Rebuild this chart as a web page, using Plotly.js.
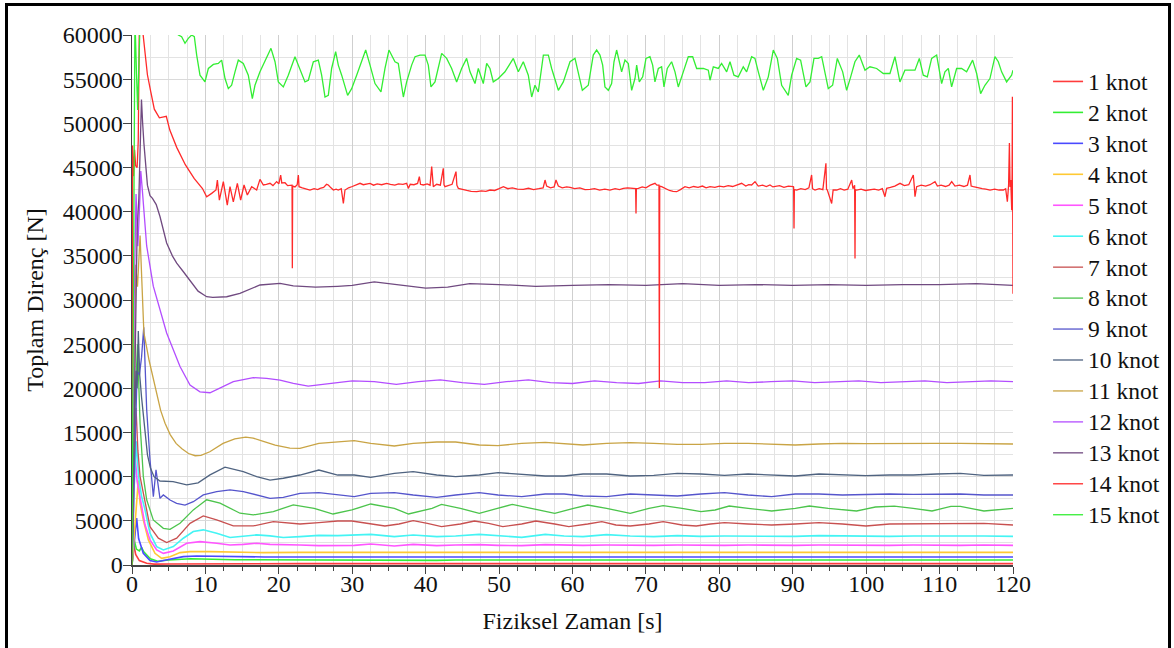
<!DOCTYPE html>
<html><head><meta charset="utf-8">
<script src="https://cdn.plot.ly/plotly-3.0.1.min.js"></script>
<style>
html,body{margin:0;padding:0;background:#fff;}
#wrap{position:relative;width:1174px;height:648px;overflow:hidden;}
#chart{position:absolute;left:0;top:0;width:1174px;height:648px;}
#frame{position:absolute;left:5px;top:3px;width:1166px;height:670px;border:3px solid #000;box-sizing:border-box;pointer-events:none;}
</style></head><body>
<div id="wrap"><div id="chart"></div><div id="frame"></div></div>
<script>
// ---------- series names & colours ----------
const names = ['1 knot','2 knot','3 knot','4 knot','5 knot','6 knot','7 knot','8 knot','9 knot','10 knot','11 knot','12 knot','13 knot','14 knot','15 knot'];
const colors = ['#ff3b3b','#33ee33','#4a4aff','#ffc933','#ff55ff','#44f4f4','#c85050','#4cc44c','#5555cc','#4f6380','#c9a445','#b34dff','#704a80','#ff2a2a','#33ee33'];

// ---------- shared late time grid (s) ----------
const tLate = [22.88,25.45,28.02,30.27,32.52,35.73,38.30,41.51,44.08,47.29,49.86,53.08,56.29,58.86,61.43,64.64,67.86,71.07,74.28,77.49,80.70,83.92,87.13,90.34,93.56,96.77,99.97,103.19,106.40,109.62,112.83,116.04,120];

// ---------- 1 knot ----------
const t1e = [0,0.2,0.5,1.0,2.0,3.0,5.0,10];
const v1e = [0,2500,1200,500,200,100,120,150];
const v1l = [150,150,150,113,150,150,150,150,113,150,150,150,150,150,150,113,150,150,150,150,150,150,150,113,150,150,150,150,150,150,150,113,150];
// ---------- 2 knot ----------
const t2e = [0,0.3,0.6,1.0,1.3,1.6,2.5,3.5,5,8,14];
const v2e = [0,2800,1800,1600,2000,1500,700,420,560,700,600];
const v2l = [566,566,528,566,566,566,566,528,566,566,566,566,566,528,566,566,566,566,566,566,528,566,566,566,566,566,566,566,528,566,566,566,566];
// ---------- 3 knot ----------
const t3e = [0,0.3,0.63,0.9,1.54,2.45,3.36,4.27,5.63,6.99,8.8,13.35,18.0];
const v3e = [0,2500,5300,3000,1330,500,340,500,760,950,1020,950,910];
const v3l = [906,906,868,906,906,906,944,906,906,906,868,906,906,906,906,906,906,944,906,906,906,906,906,868,906,906,906,906,906,906,944,906,906];
// ---------- 4 knot ----------
const t4e = [0,0.5,0.86,1.1,1.54,2.23,3.13,4.04,5.18,6.54,7.9,10.62,13.35,17.89];
const v4e = [0,5000,9600,7000,5100,2840,1320,750,940,1400,1510,1510,1440,1400];
const v4l = [1434,1434,1472,1434,1434,1396,1434,1434,1472,1434,1434,1434,1396,1434,1434,1434,1472,1434,1434,1434,1434,1396,1434,1434,1434,1434,1434,1472,1434,1434,1434,1434,1434];
// ---------- 5 knot ----------
const t5e = [0,0.2,0.41,0.7,1.09,1.77,2.45,3.36,4.27,5.63,7.45,9.26,11.53,13.35,15.16,16.98,18.80,20.61];
const v5e = [0,8000,12500,9500,7570,4550,2840,1700,1320,1580,2460,2650,2460,2270,2340,2460,2340,2270];
const v5l = [2264,2188,2188,2226,2377,2151,2340,2188,2264,2302,2226,2188,2302,2226,2226,2264,2226,2226,2264,2226,2226,2264,2226,2226,2264,2226,2226,2226,2264,2226,2226,2264,2226];
// ---------- 6 knot ----------
const t6e = [0,0.3,0.6,0.9,1.3,1.77,2.45,3.36,4.27,5.63,6.99,8.35,9.71,11.53,13.35,15.16,16.98,18.80,20.61];
const v6e = [0,9000,14000,10000,7800,6250,3600,2080,1710,2080,3030,3790,3980,3600,3110,3220,3410,3300,3110];
const v6l = [3207,3358,3320,3396,3471,3207,3396,3207,3283,3471,3283,3132,3471,3283,3207,3434,3283,3207,3320,3245,3283,3245,3283,3245,3320,3283,3283,3245,3283,3245,3283,3283,3245];
// ---------- 7 knot ----------
const t7 = [0,0.3,0.55,0.8,1.1,1.54,2.45,3.59,4.72,6.09,7.9,9.71,11.53,13.8,16.52,19.25,21.97,
  22.88,25.45,28.02,29.95,31.87,34.45,36.37,38.30,40.23,42.16,44.73,46.65,48.58,50.51,53.08,55.00,57.57,59.50,62.07,64.00,
  65.92,67.86,70.42,72.35,74.92,76.85,78.78,80.70,83.92,87.13,90.34,93.56,96.77,99.97,103.19,106.40,109.62,112.83,116.04,120];
const v7 = [0,12000,17800,13000,10000,8130,4340,3040,2540,3040,4720,5550,5100,4420,4420,4910,4720,
  4641,4792,4981,4981,4717,4415,4641,5019,4717,4339,4641,4981,4717,4339,4641,4981,4641,4339,4641,4905,
  4528,4415,4641,4905,4528,4415,4641,4792,4641,4528,4641,4792,4641,4415,4641,4641,4717,4641,4717,4528];
// ---------- 8 knot ----------
const t8 = [0,0.4,0.75,1.1,1.54,2.0,2.9,4.27,5.18,6.54,8.35,10.17,11.99,14.71,16.52,19.25,21.97,
  22.88,24.81,27.38,29.95,32.52,35.73,37.66,40.87,42.16,44.73,47.30,49.87,51.80,54.36,57.58,60.15,62.07,64.64,67.86,70.42,
  72.35,74.92,77.49,79.42,81.35,83.92,87.13,90.34,92.27,94.84,98.69,101.26,103.83,106.40,108.97,111.54,112.83,116.04,120];
const v8 = [0,18000,25000,16000,10030,7380,5100,4150,4040,4720,6240,7380,7000,5860,5670,6050,6810,
  6676,6415,5774,6227,6906,6415,5774,6415,6868,6415,5849,6415,6868,6415,5849,6415,6793,6415,5849,6415,
  6717,6415,6038,6227,6676,6415,6113,6415,6676,6415,6113,6566,6676,6415,6113,6642,6642,6113,6415];
// ---------- 9 knot ----------
const t9e = [0,0.4,0.7,1.0,1.3,1.6,1.8,2.0,2.45,2.91,3.27,3.59,3.81,4.27,5.18,6.08,7.22,8.35,9.71,11.53,13.35,15.16,16.98,18.80,20.61];
const v9e = [0,14000,22000,21500,23500,26900,21000,17600,11910,7740,10770,8880,7550,7930,7360,6980,6790,7170,7930,8310,8500,8310,7930,7550,7660];
const v9l = [8113,8189,7925,7736,8113,8189,7925,7660,7925,8189,7925,7736,8038,8038,7811,7736,8038,7925,7811,8038,8189,7925,7736,8038,8038,7925,8000,8038,8000,8038,8038,7925,7925];
// ---------- 10 knot ----------
const t10e = [0,0.3,0.55,0.7,0.86,1.05,1.3,1.7,2.1,2.5,3.0,3.81,5.6,7.45,9.0,10.62,12.67,15.16,16.98,18.80,20.61];
const v10e = [0,15000,22000,20000,26500,21500,19000,15500,12500,11000,10000,9510,9450,9070,9300,10200,11070,10580,10000,9620,9820];
const v10l = [10188,10754,10188,10188,9924,10377,10565,10188,10000,10188,10452,10301,10075,10075,10301,10301,10075,10150,10377,10301,10150,10301,10188,10075,10301,10188,10113,10188,10188,10301,10377,10150,10188];
// ---------- 11 knot ----------
const t11e = [0,0.3,0.5,0.75,1.1,1.3,1.62,2.33,3.27,3.9,4.5,5.2,6.0,6.8,7.7,8.6,9.4,10.6,12.4,14.0,15.5,16.5,18.0,19.5,21.5];
const v11e = [0,20000,34000,31500,37300,33000,26300,23150,19640,17500,16050,14760,13770,13170,12620,12370,12420,12820,13770,14270,14470,14370,13970,13570,13220];
const v11l = [13207,13773,13962,14075,13773,13471,13773,13924,13924,13584,13509,13773,13886,13773,13584,13773,13848,13773,13660,13660,13773,13773,13660,13584,13698,13773,13735,13773,13735,13773,13773,13735,13698];
// ---------- 12 knot ----------
const t12 = [0,0.3,0.55,0.8,1.05,1.2,1.4,1.6,2.0,2.9,3.81,4.72,5.63,6.54,7.9,9.26,10.62,11.99,13.8,16.52,18.34,20.16,21.97,24,27,30,33,36,39,42,45,48,51,54,57,60,63,66,69,72,75,78,81,84,87,90,93,96,99,102,105,108,111,114,117,120];
const v12 = [0,30000,42000,36100,41000,44600,42500,40000,36120,31560,28900,26260,24370,22470,20370,19610,19500,20000,20750,21210,21130,20940,20560,20250,20550,20850,20750,20450,20750,20950,20650,20450,20750,20950,20650,20550,20850,20650,20550,20850,20650,20650,20850,20650,20750,20850,20650,20750,20850,20650,20750,20850,20650,20750,20850,20750];
// ---------- 13 knot ----------
const t13 = [0,0.4,0.7,0.93,1.1,1.29,1.45,1.62,2.1,2.45,2.79,3.3,3.81,4.72,5.5,6.09,7.0,7.9,9.0,10.17,11.0,12.9,14.7,17.43,20.16,21.97,25,28,30,33,36,40,43,46,50,55,60,65,70,75,80,85,90,95,100,105,110,115,120];
const v13 = [0,20000,38000,41500,46000,52700,50000,47760,43000,41800,41500,40800,39450,36450,35000,34170,33200,32270,31000,30370,30300,30370,30750,31700,31890,31590,31450,31550,31650,32050,31750,31350,31450,31850,31750,31550,31650,31750,31650,31850,31650,31750,31650,31750,31650,31750,31750,31850,31650];
// ---------- 14 knot ----------
const t14 = [0,0.08,0.2,0.35,0.5,0.7,0.85,1.0,1.39,1.62,2.10,2.56,3.04,3.73,4.27,4.67,5.15,6.09,7.26,8.46,
  9.60,10.17,10.85,11.44,11.63,11.90,12.44,12.98,13.35,13.80,14.35,14.80,15.26,15.71,16.30,16.98,17.43,17.89,
  18.3,18.8,19.2,19.7,20.0,20.25,20.4,20.84,21.2,21.52,21.80,21.84,21.88,22.2,22.5,22.66,22.75,23.2,23.7,24.24,24.8,25.3,
  25.61,26.1,26.5,26.74,27.1,27.43,27.8,28.10,28.5,28.79,29.01,29.5,30.0,30.5,31.06,31.5,32.0,32.42,32.9,33.4,
  34.0,34.69,35.2,35.8,36.3,36.9,37.41,37.64,37.9,38.4,38.9,39.14,39.3,39.68,40.2,40.6,40.82,40.95,41.04,41.5,
  42.0,42.40,42.5,42.63,43.1,43.6,44.13,44.25,44.45,45.0,45.6,46.2,46.95,47.6,48.2,48.77,49.4,50.0,50.59,51.2,
  51.8,52.5,53.30,54.0,54.7,55.4,56.0,56.26,56.48,57.0,57.5,57.75,58.07,58.6,59.2,59.66,60.3,61.0,61.7,62.38,
  63.0,63.7,64.4,65.11,65.8,66.4,66.93,67.5,68.1,68.60,68.65,68.70,68.97,69.5,70.0,70.6,71.24,71.5,71.78,71.83,
  71.88,72.14,72.6,73.2,73.7,74.19,74.7,75.32,75.9,76.5,77.1,77.7,78.2,78.73,79.4,80.0,80.6,81.2,81.8,82.4,
  83.04,83.6,84.0,84.40,84.86,85.3,85.9,86.4,86.90,87.3,87.58,88.2,88.8,89.4,90.08,90.12,90.17,90.22,90.53,91.1,
  91.7,92.2,92.57,92.7,93.03,93.6,94.1,94.52,94.6,94.71,95.30,95.5,95.98,96.5,97.0,97.5,98.03,98.2,98.43,98.48,
  98.53,98.71,99.3,99.9,100.52,101.1,101.7,102.2,102.56,102.79,103.3,103.9,104.61,105.2,105.8,106.42,106.55,106.65,106.88,107.5,
  108.1,108.7,109.38,109.7,110.2,110.8,111.3,111.65,112.1,112.7,113.3,113.8,114.14,114.3,114.60,115.2,115.8,116.3,116.87,117.5,
  118.1,118.69,119.0,119.23,119.4,119.51,119.6,119.69,119.76,119.83,119.88,119.92,119.96,120];
const v14 = [0,47500,44000,47000,45200,45000,48000,61000,61000,59000,55500,53550,51600,50620,50750,50800,49240,47280,45320,43760,
  42620,41680,42070,42450,43580,41310,43400,40740,42830,41120,43210,41310,43020,41880,42830,42450,43660,43020,
  43100,43210,42950,43400,43150,44150,43250,43280,42950,43020,43000,33600,42900,42800,43050,44150,42830,42700,42550,42450,42600,42500,
  42640,42750,43100,43020,42700,42450,42550,42450,42600,40930,42450,42700,42850,43000,43210,43050,43150,43210,43000,43150,
  43050,43210,43100,43000,43150,43100,43210,42640,43100,43050,43200,43960,43100,43020,43150,43000,45100,43050,42830,43100,
  43000,44910,43050,42830,43000,43100,44530,43000,42640,42500,42400,42300,42260,42350,42300,42450,42400,42600,42830,42600,
  42700,42550,42520,42650,42500,42600,42700,43580,42900,42700,42800,43580,42900,42700,42800,42750,42600,42700,42500,42520,
  42600,42450,42550,42450,42600,42500,42640,42700,42600,42600,39800,42600,42640,42800,42700,43000,43210,43000,43000,20040,
  42900,42830,42600,42400,42300,42260,42500,42830,42700,42850,42750,42900,42700,42830,42750,42900,42800,42950,42850,43000,
  43210,42900,43050,43020,43400,42900,43000,42850,43020,42800,42830,42950,42750,42900,42830,42800,38100,42500,42450,42600,
  42500,42700,44150,42600,42450,42600,42500,45480,42550,42450,40930,42450,42450,42600,42450,42550,43580,42600,43000,34700,
  42500,42450,42550,42400,42450,42550,42450,42600,41690,42640,42750,42900,43210,42950,43050,44150,42900,41690,42830,43000,
  42900,43050,43400,42900,43000,42850,43000,43400,42900,43000,42850,43000,44150,42900,42830,42700,42600,42550,42450,42550,
  42450,42450,42600,41120,43000,47760,42800,43580,41800,40170,44500,53000,42000,30700];
// ---------- 15 knot ----------
const t15 = [0,0.2,0.4,0.6,0.77,0.95,1.15,5.5,
  5.86,6.31,6.76,7.22,7.67,8.13,8.49,8.81,9.26,9.94,10.40,11.08,11.76,12.21,12.67,13.12,13.57,14.03,14.48,15.16,
  15.84,16.39,16.75,17.43,18.12,18.93,19.48,19.93,20.61,21.29,22.20,22.65,23.11,23.56,24.02,24.70,25.38,25.83,26.29,26.74,
  27.19,27.74,28.10,28.56,29.37,29.92,30.60,31.28,31.83,32.42,33.10,33.91,34.46,35.00,35.82,36.27,36.96,37.41,38.09,38.55,
  39.23,39.91,40.36,40.72,41.27,42.18,42.86,43.54,44.22,44.90,45.58,46.04,46.72,47.17,47.85,48.31,48.76,49.21,49.90,50.80,
  51.94,52.62,53.30,53.98,54.44,54.89,55.34,56.03,56.71,57.16,58.07,58.75,59.66,60.34,60.79,61.34,62.15,62.83,
  63.29,63.74,64.11,64.42,64.88,65.33,65.65,66.01,66.38,66.69,67.15,67.60,68.06,68.51,68.74,69.10,69.56,70.01,70.55,70.92,
  71.23,71.69,72.14,72.46,72.91,73.50,73.96,74.41,75.09,75.77,76.37,76.91,77.82,78.50,78.73,79.18,79.86,80.31,81.00,81.45,
  81.99,82.58,83.26,83.72,84.40,84.85,85.31,85.99,86.67,87.35,87.90,88.49,89.39,89.85,90.53,91.07,91.80,92.35,92.89,93.48,
  93.94,94.39,94.84,95.43,96.07,96.80,97.34,97.89,98.47,99.06,99.84,100.52,101.43,102.33,103.24,103.92,104.60,105.28,105.97,106.65,
  107.24,107.78,108.33,108.92,109.60,110.28,110.73,111.19,111.64,112.32,113.00,113.68,114.50,115.05,115.59,116.18,116.86,117.54,118.00,118.45,
  119.13,119.81,120];
const v15 = [0,30000,62000,56000,51500,57000,63000,61500,
  60500,60000,59810,59060,59620,60000,59810,57730,55450,54690,56210,56670,56780,57160,55070,53930,54310,55830,57160,56780,
  55450,52790,54310,55830,56970,58490,56970,54690,54120,55450,57540,56590,55450,54690,54880,56970,57160,55450,52980,53170,
  56210,58110,56590,55450,53170,53930,55450,56970,58300,56590,54500,53550,56210,58300,56970,56780,52980,54690,56590,57540,
  57730,57730,56590,54120,54690,57920,57350,56210,54690,56210,57350,55830,54500,56210,54500,56780,56210,54690,55070,55830,
  57350,55830,56970,55450,52980,54310,53550,57730,57730,56210,53740,54690,56970,57350,55830,53740,54310,57730,
  58300,57730,56590,54120,53740,54500,56970,58300,56970,55830,57160,56780,53740,55070,56590,54690,55260,57350,57540,56590,
  54690,56210,56400,54120,56210,56970,55830,54120,55830,57540,57540,56210,56210,56020,54880,56400,56210,56780,55830,56970,
  55450,55260,56400,55830,57540,57350,55830,53740,55260,58300,57350,54310,53170,55450,57350,57160,54120,54690,57350,57350,
  57540,55640,53930,54310,57350,55830,53740,55260,56970,57730,56020,56400,56210,55640,55640,57540,54690,56020,56020,56020,
  57350,55450,55260,57350,57730,54500,55830,56210,54120,56210,56210,55830,57160,55640,53360,54310,55070,57540,56970,55830,
  54690,55450,56020];

// ---------- assemble ----------
const seriesT = [t1e.concat(tLate), t2e.concat(tLate), t3e.concat(tLate), t4e.concat(tLate), t5e.concat(tLate), t6e.concat(tLate),
  t7, t8, t9e.concat(tLate), t10e.concat(tLate), t11e.concat(tLate), t12, t13, t14, t15];
const seriesV = [v1e.concat(v1l), v2e.concat(v2l), v3e.concat(v3l), v4e.concat(v4l), v5e.concat(v5l), v6e.concat(v6l),
  v7, v8, v9e.concat(v9l), v10e.concat(v10l), v11e.concat(v11l), v12, v13, v14, v15];

const traces = names.map((n, i) => ({
  x: seriesT[i], y: seriesV[i], type: 'scatter', mode: 'lines',
  name: '<span style="font-size:23.5px">' + n + '</span>',
  line: {color: colors[i], width: i < 6 ? 1.6 : 1.3}, hoverinfo: 'skip'
}));

const FONT = 'Liberation Serif';
const layout = {
  width: 1174, height: 648,
  margin: {l: 132, r: 161, t: 35, b: 83, autoexpand: false},
  paper_bgcolor: '#ffffff', plot_bgcolor: '#ffffff',
  showlegend: true,
  legend: {x: 1.0398, xanchor: 'left', y: 0.951, yanchor: 'top', font: {family: FONT, size: 21.5, color: '#111111'}},
  xaxis: {
    range: [0, 120], tick0: 0, dtick: 10, ticks: 'outside', ticklen: 7, tickwidth: 1, tickcolor: '#444',
    ticklabelstandoff: -10,
    showline: true, linecolor: '#444', linewidth: 1.5, zeroline: false,
    showgrid: true, gridcolor: '#cfcfcf', gridwidth: 1,
    minor: {dtick: 2.5, ticks: 'outside', ticklen: 4, tickcolor: '#444', showgrid: true, gridcolor: '#e3e3e3', gridwidth: 1},
    tickfont: {family: FONT, size: 24, color: '#111111'},
    title: {text: 'Fiziksel Zaman [s]', font: {family: FONT, size: 24, color: '#111111'}, standoff: 16}
  },
  yaxis: {
    range: [0, 60000], tick0: 0, dtick: 5000, tickformat: 'd', ticks: 'outside', ticklen: 8, tickwidth: 1, tickcolor: '#444',
    ticklabelstandoff: -5,
    showline: true, linecolor: '#444', linewidth: 1.5, zeroline: false,
    showgrid: true, gridcolor: '#dadada', gridwidth: 1,
    minor: {dtick: 2500, ticks: '', showgrid: true, gridcolor: '#e3e3e3', gridwidth: 1},
    tickfont: {family: FONT, size: 24, color: '#111111'},
    title: {text: 'Toplam Direnç [N]', font: {family: FONT, size: 24, color: '#111111'}, standoff: 12}
  },
  yaxis2: {
    overlaying: 'y', anchor: 'x', side: 'left', range: [0, 60000], showgrid: false, zeroline: false,
    showticklabels: false, ticks: '', dtick: 5000, showline: false,
    minor: {dtick: 625, ticks: 'outside', ticklen: 4, tickcolor: '#555', showgrid: false}
  }
};

Plotly.newPlot('chart', traces, layout, {displayModeBar: false, staticPlot: true});
</script>
</body></html>
